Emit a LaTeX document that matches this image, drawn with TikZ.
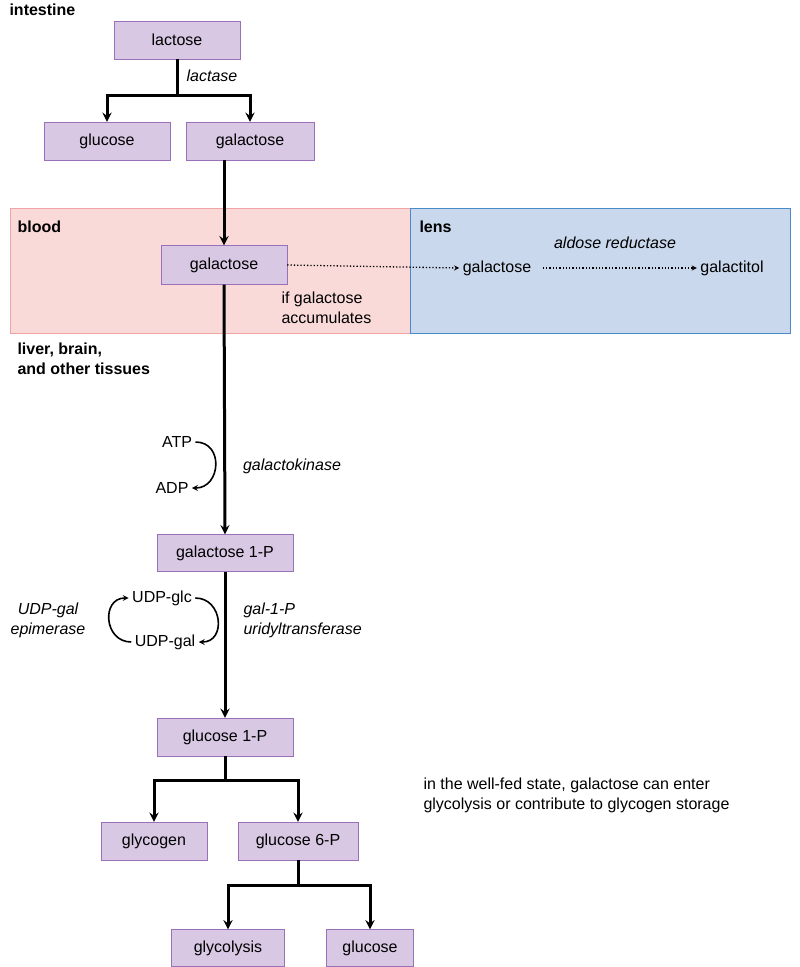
\documentclass[tikz,border=0pt]{standalone}
\usepackage{fontspec}
\setmainfont{Liberation Sans}
\usetikzlibrary{shapes, positioning, arrows, fit}
\definecolor{boxfill}{HTML}{D8C8E4}
\definecolor{boxline}{HTML}{9A70B8}
\definecolor{bloodfill}{HTML}{F9DAD8}
\definecolor{bloodline}{HTML}{F2A4A4}
\definecolor{lensfill}{HTML}{C9D8EC}
\definecolor{lensline}{HTML}{4A8ACA}
\newcommand{\diagfont}{\fontsize{16}{20}\selectfont}
\tikzset{
  mol/.style={draw=boxline, fill=boxfill, minimum height=38pt, inner sep=0pt},
  flow/.style={line width=3pt, -{stealth}},
  joint/.style={line width=3pt},
  enz/.style={font=\diagfont\itshape},
  region/.style={font=\diagfont\bfseries, anchor=west},
}
\begin{document}
\begin{tikzpicture}[x=1pt, y=-1pt, font=\diagfont]
          % size and regions
          \useasboundingbox (0,0) rectangle (800,967);
          \fill[bloodfill, draw=bloodline] (10,208) rectangle (410,333);
          \fill[lensfill, draw=lensline] (410,208) rectangle (790,333);
          \node [region] at (6,10) {intestine};
          \node [region] at (14,227) {blood};
          \node [region] at (416,227) {lens};
          \node [region, align=left, anchor=north west] at (14,339) {liver, brain,\\and other tissues};

          % molecule boxes
          \node (lactose) [mol, minimum width=126pt] at (177,40) {lactose};
          \node (glucose_a) [mol, minimum width=126pt] at (107,141) {glucose};
          \node (galactose_a) [mol, minimum width=128pt] at (250,141) {galactose};
          \node (galactose_b) [mol, minimum width=126pt, minimum height=39pt] at (224,265) {galactose};
          \node (galactose_lens) at (497,268) {galactose};
          \node (galactitol) at (732,268) {galactitol};
          \node (gal1p) [mol, minimum width=136pt, minimum height=37pt] at (225,553) {galactose 1-P};
          \node (glc1p) [mol, minimum width=136pt] at (225,737) {glucose 1-P};
          \node (glycogen) [mol, minimum width=106pt] at (154,841) {glycogen};
          \node (glc6p) [mol, minimum width=120pt] at (298,841) {glucose 6-P};
          \node (glycolysis) [mol, minimum width=113pt, minimum height=37pt] at (228,948) {glycolysis};
          \node (glucose_b) [mol, minimum width=87pt, minimum height=37pt] at (370,948) {glucose};

          % cofactors and enzymes
          \node (atp) at (177,442) {ATP};
          \node (adp) at (172,488) {ADP};
          \node (udpglc) at (162,598) {UDP-glc};
          \node (udpgal) at (165,642) {UDP-gal};
          \node [enz] at (212,76) {lactase};
          \node [enz] at (615,243) {aldose reductase};
          \node [enz] at (292,466) {galactokinase};
          \node [enz, align=center] at (48,620) {UDP-gal\\epimerase};
          \node [enz, align=left, anchor=west] at (240,620) {gal-1-P\\uridyltransferase};
          \node [align=left, anchor=west] at (278,308) {if galactose\\accumulates};
          \node [align=left, anchor=west] at (420,795) {in the well-fed state, galactose can enter\\glycolysis or contribute to glycogen storage};

          % branch points
          \coordinate (split_a) at (177,95);
          \coordinate (split_b) at (225,780);
          \coordinate (split_c) at (298,885);

          % main route
          \draw [joint] (lactose.south) -- (split_a);
          \draw [flow] (split_a) -| (glucose_a.north);
          \draw [flow] (split_a) -| (galactose_a.north);
          \draw [flow] (galactose_a.south -| galactose_b.north) -- (galactose_b.north);
          \draw [flow] (galactose_b.south) -- (gal1p.north);
          \draw [flow] (gal1p.south) -- (glc1p.north);
          \draw [joint] (glc1p.south) -- (split_b);
          \draw [flow] (split_b) -| (glycogen.north);
          \draw [flow] (split_b) -| (glc6p.north);
          \draw [joint] (glc6p.south) -- (split_c);
          \draw [flow] (split_c) -| (glycolysis.north);
          \draw [flow] (split_c) -| (glucose_b.north);

          % lens route
          \draw [line width=1.3pt, dotted, -{stealth}] (galactose_b.east) -- (galactose_lens.west);
          \draw [line width=1.3pt, dotted, -{stealth}] (galactose_lens.east) ++(8,0) -- (galactitol.west);

          % side reactions
          \draw [line width=1.6pt, -{stealth}] (atp.east) to [out=0, in=0, looseness=1.6] (adp.east);
          \draw [line width=1.6pt, -{stealth}] (udpglc.east) to [out=0, in=0, looseness=1.6] (udpgal.east);
          \draw [line width=1.6pt, -{stealth}] (udpgal.west) to [out=180, in=180, looseness=1.6] (udpglc.west);
\end{tikzpicture}
\end{document}
